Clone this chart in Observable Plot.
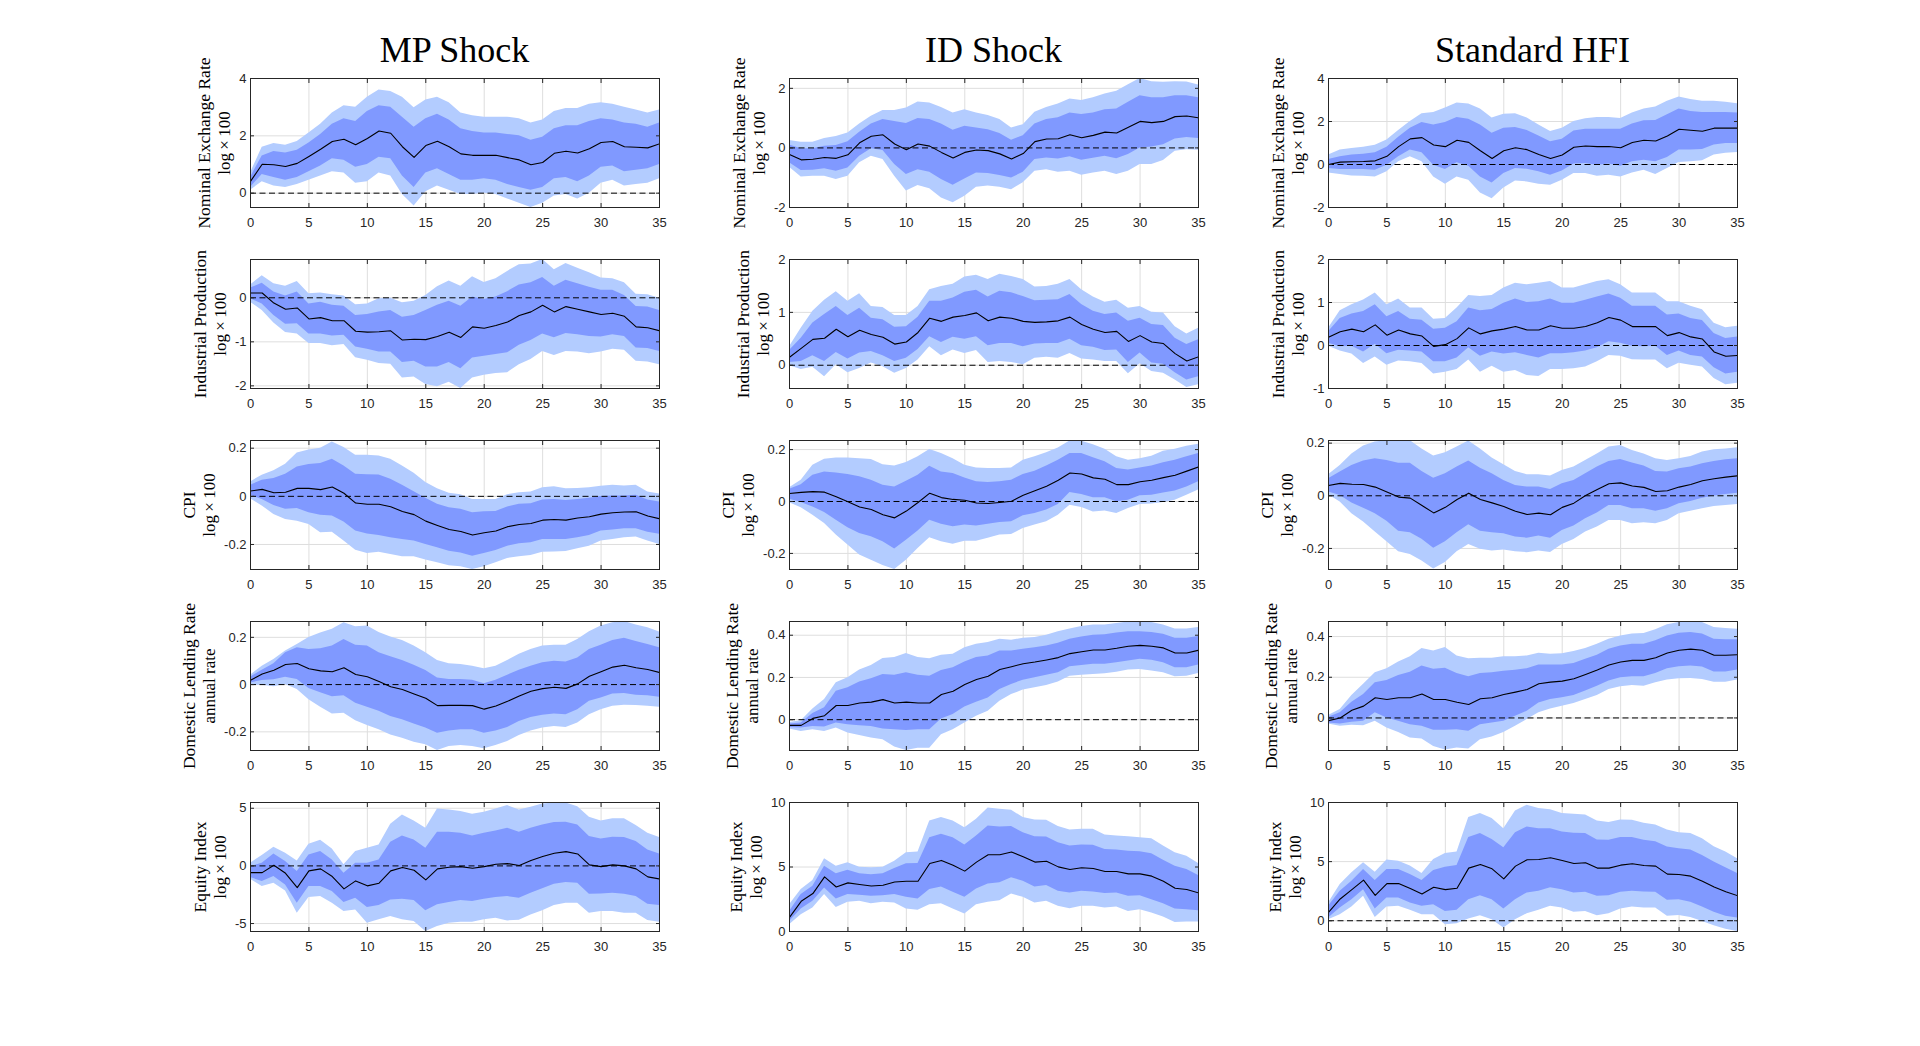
<!DOCTYPE html>
<html>
<head>
<meta charset="utf-8">
<script src="https://cdn.jsdelivr.net/npm/d3@7"></script>
<script src="https://cdn.jsdelivr.net/npm/@observablehq/plot@0.6"></script>
<style>
  html, body { margin: 0; padding: 0; background: #fff; overflow: hidden; }
  #page { position: relative; width: 1920px; height: 1046px; background: #fff; }
  #page svg { position: absolute; }
</style>
</head>
<body>
<div id="page"></div>
<script>
// ---------------- DATA ----------------
const horizon = [0,1,2,3,4,5,6,7,8,9,10,11,12,13,14,15,16,17,18,19,20,21,22,23,24,25,26,27,28,29,30,31,32,33,34,35];
const xTicks = [0,5,10,15,20,25,30,35];
const columnTitles = ["MP Shock", "ID Shock", "Standard HFI"];
const rowLabels = [
  ["Nominal Exchange Rate", "log\u2009×\u2009100"],
  ["Industrial Production", "log\u2009×\u2009100"],
  ["CPI", "log\u2009×\u2009100"],
  ["Domestic Lending Rate", "annual rate"],
  ["Equity Index", "log\u2009×\u2009100"]
];

// y-axis limits and ticks per panel (rows: ER, IP, CPI, LR, EQ)
const mp_ylim  = [[-0.5, 4], [-2.06, 0.87], [-0.304, 0.232], [-0.279, 0.267], [-5.69, 5.5]];
const id_ylim  = [[-2, 2.33], [-0.44, 2], [-0.262, 0.235], [-0.146, 0.465], [0, 10]];
const hfi_ylim = [[-2, 4], [-1, 2], [-0.28, 0.21], [-0.16, 0.474], [-0.91, 10]];
const mp_yticks  = [[0, 2, 4], [-2, -1, 0], [-0.2, 0, 0.2], [-0.2, 0, 0.2], [-5, 0, 5]];
const id_yticks  = [[-2, 0, 2], [0, 1, 2], [-0.2, 0, 0.2], [0, 0.2, 0.4], [0, 5, 10]];
const hfi_yticks = [[-2, 0, 2, 4], [-1, 0, 1, 2], [-0.2, 0, 0.2], [0, 0.2, 0.4], [0, 5, 10]];

// ---- MP shock ----
const mp_er_med  = [0.41,1.01,0.99,0.93,1.04,1.28,1.53,1.80,1.88,1.69,1.91,2.17,2.09,1.62,1.25,1.66,1.81,1.62,1.37,1.32,1.32,1.32,1.24,1.16,0.99,1.07,1.39,1.46,1.40,1.55,1.77,1.80,1.62,1.60,1.58,1.72];
const mp_er_hi90 = [0.7,1.6,1.73,1.67,1.8,2.1,2.4,2.8,3.05,3.0,3.35,3.6,3.55,3.35,2.98,3.25,3.35,3.15,2.8,2.7,2.65,2.65,2.65,2.6,2.45,2.55,2.85,2.95,2.95,3.1,3.15,3.1,3.0,2.9,2.8,2.9];
const mp_er_hi68 = [0.55,1.3,1.45,1.4,1.5,1.75,2.05,2.4,2.6,2.5,2.85,3.05,3.0,2.65,2.3,2.6,2.75,2.55,2.25,2.15,2.1,2.1,2.05,2.0,1.85,1.95,2.25,2.35,2.35,2.5,2.6,2.55,2.45,2.4,2.3,2.45];
const mp_er_lo68 = [0.2,0.65,0.55,0.45,0.55,0.75,0.95,1.2,1.15,0.9,1.0,1.25,1.2,0.6,0.2,0.7,0.85,0.65,0.45,0.45,0.5,0.45,0.3,0.2,0.1,0.2,0.5,0.55,0.4,0.6,0.9,0.95,0.75,0.8,0.85,1.0];
const mp_er_lo90 = [0.1,0.4,0.25,0.2,0.3,0.45,0.6,0.75,0.7,0.35,0.4,0.7,0.6,-0.05,-0.45,0.05,0.25,0.1,-0.05,-0.05,0.0,-0.05,-0.2,-0.35,-0.5,-0.35,-0.1,-0.05,-0.2,0.0,0.35,0.45,0.25,0.3,0.35,0.5];

const mp_ip_med  = [0.11,0.11,-0.12,-0.26,-0.23,-0.48,-0.45,-0.52,-0.52,-0.76,-0.78,-0.77,-0.75,-0.96,-0.94,-0.95,-0.88,-0.78,-0.90,-0.66,-0.69,-0.63,-0.55,-0.40,-0.32,-0.17,-0.32,-0.20,-0.26,-0.32,-0.38,-0.35,-0.42,-0.66,-0.68,-0.75];
const mp_ip_hi90 = [0.29,0.5,0.32,0.26,0.37,0.09,0.11,0.07,0.04,-0.16,-0.14,-0.02,-0.01,-0.11,-0.08,0.05,0.25,0.38,0.26,0.48,0.35,0.43,0.6,0.75,0.77,0.87,0.64,0.78,0.67,0.57,0.45,0.43,0.34,0.08,0.07,-0.01];
const mp_ip_hi68 = [0.22,0.33,0.13,0.04,0.13,-0.14,-0.10,-0.17,-0.19,-0.40,-0.38,-0.32,-0.29,-0.44,-0.40,-0.29,-0.17,-0.08,-0.19,0.02,-0.04,0.02,0.14,0.29,0.34,0.46,0.26,0.40,0.32,0.24,0.17,0.17,0.05,-0.20,-0.21,-0.29];
const mp_ip_lo68 = [-0.02,-0.14,-0.40,-0.60,-0.59,-0.82,-0.82,-0.87,-0.85,-1.12,-1.17,-1.23,-1.23,-1.47,-1.44,-1.57,-1.57,-1.47,-1.61,-1.37,-1.33,-1.29,-1.25,-1.08,-0.97,-0.82,-0.91,-0.81,-0.84,-0.88,-0.89,-0.84,-0.88,-1.14,-1.15,-1.22];
const mp_ip_lo90 = [-0.10,-0.29,-0.57,-0.79,-0.82,-1.04,-1.04,-1.09,-1.06,-1.36,-1.42,-1.49,-1.51,-1.82,-1.80,-1.97,-2.02,-1.92,-2.06,-1.82,-1.76,-1.72,-1.70,-1.52,-1.40,-1.22,-1.31,-1.22,-1.23,-1.27,-1.23,-1.17,-1.19,-1.44,-1.46,-1.52];

const mp_cpi_med  = [0.022,0.029,0.015,0.017,0.033,0.033,0.028,0.039,0.013,-0.028,-0.033,-0.033,-0.043,-0.063,-0.076,-0.103,-0.121,-0.138,-0.146,-0.161,-0.151,-0.144,-0.126,-0.117,-0.113,-0.099,-0.096,-0.099,-0.090,-0.085,-0.074,-0.068,-0.065,-0.064,-0.082,-0.093];
const mp_cpi_hi90 = [0.06,0.088,0.106,0.133,0.18,0.193,0.2,0.226,0.203,0.171,0.171,0.168,0.154,0.126,0.096,0.057,0.032,0.013,0.007,-0.013,-0.013,-0.013,0.007,0.015,0.018,0.036,0.04,0.032,0.033,0.036,0.042,0.046,0.043,0.046,0.018,0.01];
const mp_cpi_hi68 = [0.046,0.067,0.074,0.092,0.122,0.132,0.136,0.154,0.126,0.092,0.09,0.089,0.071,0.046,0.019,-0.008,-0.033,-0.047,-0.054,-0.068,-0.064,-0.063,-0.044,-0.033,-0.031,-0.015,-0.013,-0.017,-0.013,-0.008,-0.001,0.001,0.001,0.004,-0.015,-0.024];
const mp_cpi_lo68 = [0.004,-0.013,-0.038,-0.054,-0.051,-0.068,-0.079,-0.082,-0.107,-0.144,-0.156,-0.163,-0.172,-0.179,-0.186,-0.2,-0.214,-0.228,-0.235,-0.249,-0.238,-0.225,-0.207,-0.197,-0.193,-0.179,-0.179,-0.179,-0.172,-0.163,-0.144,-0.140,-0.135,-0.135,-0.149,-0.158];
const mp_cpi_lo90 = [-0.01,-0.04,-0.075,-0.096,-0.103,-0.117,-0.151,-0.149,-0.186,-0.224,-0.238,-0.232,-0.242,-0.251,-0.251,-0.265,-0.276,-0.288,-0.293,-0.304,-0.293,-0.276,-0.258,-0.251,-0.246,-0.232,-0.231,-0.229,-0.218,-0.207,-0.186,-0.179,-0.172,-0.169,-0.186,-0.2];

const mp_lr_med  = [0.018,0.045,0.061,0.085,0.089,0.067,0.058,0.054,0.071,0.043,0.033,0.013,-0.009,-0.021,-0.04,-0.058,-0.089,-0.088,-0.088,-0.089,-0.104,-0.091,-0.071,-0.048,-0.028,-0.017,-0.011,-0.016,0.003,0.035,0.054,0.074,0.082,0.071,0.064,0.051];
const mp_lr_hi90 = [0.04,0.078,0.106,0.142,0.17,0.199,0.218,0.234,0.262,0.245,0.248,0.22,0.201,0.187,0.163,0.135,0.102,0.088,0.085,0.078,0.067,0.078,0.102,0.128,0.149,0.163,0.167,0.167,0.191,0.224,0.248,0.262,0.267,0.252,0.241,0.223];
const mp_lr_hi68 = [0.031,0.061,0.088,0.135,0.156,0.149,0.152,0.163,0.191,0.167,0.163,0.135,0.118,0.102,0.082,0.06,0.028,0.021,0.021,0.018,0.004,0.018,0.04,0.061,0.078,0.092,0.099,0.096,0.113,0.149,0.166,0.187,0.196,0.182,0.17,0.156];
const mp_lr_lo68 = [0.007,0.017,0.02,0.031,0.021,-0.017,-0.035,-0.052,-0.047,-0.079,-0.096,-0.113,-0.135,-0.149,-0.167,-0.184,-0.206,-0.196,-0.191,-0.191,-0.206,-0.196,-0.182,-0.156,-0.139,-0.13,-0.125,-0.128,-0.106,-0.071,-0.057,-0.04,-0.038,-0.045,-0.047,-0.054];
const mp_lr_lo90 = [-0.003,-0.003,-0.009,0,-0.021,-0.064,-0.096,-0.125,-0.121,-0.153,-0.173,-0.191,-0.213,-0.227,-0.244,-0.255,-0.279,-0.262,-0.258,-0.262,-0.272,-0.258,-0.241,-0.215,-0.196,-0.184,-0.177,-0.182,-0.163,-0.128,-0.106,-0.092,-0.088,-0.089,-0.092,-0.096];

const mp_eq_med  = [-0.58,-0.58,0.06,-0.64,-1.88,-0.43,-0.26,-0.92,-1.99,-1.30,-1.73,-1.50,-0.43,-0.14,-0.38,-1.21,-0.26,-0.12,-0.06,-0.20,-0.06,0.14,0.20,0.03,0.46,0.81,1.10,1.24,1.04,0.09,-0.06,0.09,0,-0.26,-0.95,-1.13];
const mp_eq_hi90 = [0.23,0.9,1.62,1.1,0.43,1.88,2.23,1.47,0.09,1.24,1.53,1.82,3.61,4.42,3.9,3.27,4.94,4.86,4.71,4.48,4.65,4.94,5.23,4.86,5.09,5.38,5.46,5.46,5.14,4.22,3.9,4.08,4.08,3.5,2.83,2.46];
const mp_eq_hi68 = [-0.06,0.23,1.04,0.38,-0.49,0.95,1.24,0.52,-0.64,0.23,0.23,0.52,2.05,2.60,2.25,1.53,2.92,2.92,2.83,2.60,2.83,3.03,3.27,2.92,3.27,3.55,3.76,3.79,3.55,2.54,2.34,2.49,2.46,2.11,1.39,1.04];
const mp_eq_lo68 = [-1.01,-1.36,-0.92,-1.65,-3.24,-1.79,-1.79,-2.23,-3.18,-2.80,-3.61,-3.44,-2.95,-2.89,-3.01,-3.90,-3.38,-3.18,-3.01,-3.09,-2.89,-2.75,-2.66,-2.80,-2.37,-1.99,-1.59,-1.45,-1.50,-2.46,-2.43,-2.37,-2.46,-2.66,-3.32,-3.44];
const mp_eq_lo90 = [-1.16,-1.79,-1.50,-2.17,-4.10,-2.75,-2.66,-3.24,-3.96,-3.82,-4.97,-4.68,-4.39,-4.68,-4.83,-5.69,-5.26,-4.97,-4.88,-4.88,-4.68,-4.54,-4.77,-4.71,-4.25,-3.90,-3.44,-3.24,-3.24,-4.10,-3.96,-3.96,-4.10,-4.10,-4.74,-4.88];

// ---- ID shock ----
const id_er_med  = [-0.22,-0.40,-0.38,-0.32,-0.35,-0.23,0.17,0.39,0.44,0.13,-0.06,0.13,0.06,-0.15,-0.34,-0.15,-0.07,-0.09,-0.20,-0.37,-0.19,0.21,0.30,0.31,0.44,0.34,0.42,0.53,0.50,0.69,0.89,0.85,0.89,1.05,1.07,1.01];
const id_er_hi90 = [0.25,0.19,0.19,0.32,0.38,0.50,0.80,1.06,1.26,1.26,1.34,1.54,1.51,1.36,1.17,1.28,1.17,1.09,0.95,0.67,0.78,1.20,1.36,1.47,1.64,1.59,1.68,1.81,1.90,2.12,2.33,2.22,2.20,2.22,2.21,2.11];
const id_er_hi68 = [0.10,-0.03,-0.03,0.06,0.08,0.21,0.53,0.80,0.95,0.89,0.82,0.99,0.95,0.80,0.59,0.73,0.67,0.61,0.48,0.26,0.41,0.80,0.95,1.01,1.17,1.12,1.17,1.28,1.31,1.53,1.75,1.68,1.68,1.75,1.75,1.68];
const id_er_lo68 = [-0.50,-0.76,-0.75,-0.70,-0.78,-0.67,-0.28,-0.03,-0.09,-0.56,-0.89,-0.73,-0.82,-1.06,-1.25,-1.04,-0.84,-0.86,-0.93,-1.01,-0.82,-0.39,-0.34,-0.37,-0.30,-0.41,-0.35,-0.28,-0.36,-0.22,0,0.03,0.11,0.30,0.35,0.32];
const id_er_lo90 = [-0.65,-0.98,-0.95,-0.95,-1.06,-0.95,-0.50,-0.28,-0.39,-0.95,-1.45,-1.26,-1.37,-1.68,-1.84,-1.62,-1.32,-1.28,-1.32,-1.40,-1.17,-0.78,-0.73,-0.82,-0.78,-0.92,-0.84,-0.78,-0.89,-0.78,-0.56,-0.56,-0.42,-0.11,-0.06,-0.08];

const id_ip_med  = [0.15,0.32,0.49,0.51,0.68,0.54,0.66,0.58,0.53,0.40,0.44,0.62,0.89,0.83,0.91,0.94,0.99,0.84,0.91,0.89,0.83,0.81,0.82,0.84,0.91,0.77,0.68,0.62,0.64,0.45,0.56,0.44,0.41,0.22,0.08,0.16];
const id_ip_hi90 = [0.35,0.70,1.02,1.23,1.39,1.21,1.35,1.11,1.09,0.94,0.94,1.11,1.43,1.49,1.53,1.67,1.70,1.62,1.72,1.68,1.62,1.48,1.49,1.53,1.62,1.43,1.29,1.19,1.23,1.08,1.11,1.00,0.99,0.73,0.59,0.70];
const id_ip_hi68 = [0.28,0.51,0.80,0.96,1.11,0.94,1.08,0.89,0.86,0.72,0.73,0.91,1.21,1.21,1.27,1.38,1.42,1.29,1.40,1.37,1.30,1.22,1.23,1.24,1.34,1.15,1.02,0.96,0.99,0.83,0.89,0.77,0.75,0.51,0.39,0.48];
const id_ip_lo68 = [0.05,0.07,0.18,0.07,0.24,0.12,0.23,0.26,0.18,0.07,0.13,0.30,0.54,0.43,0.53,0.49,0.54,0.37,0.41,0.41,0.35,0.40,0.41,0.41,0.49,0.37,0.34,0.28,0.29,0.05,0.23,0.04,0.02,-0.14,-0.28,-0.22];
const id_ip_lo90 = [-0.01,-0.08,-0.04,-0.22,0.01,-0.14,-0.06,0.04,-0.03,-0.15,-0.06,0.10,0.35,0.18,0.29,0.22,0.28,0.05,0.07,0.05,0.01,0.13,0.15,0.13,0.22,0.12,0.10,0.07,0.07,-0.16,0.03,-0.12,-0.15,-0.28,-0.42,-0.37];

const id_cpi_med  = [0.031,0.035,0.038,0.036,0.018,-0.001,-0.021,-0.031,-0.051,-0.063,-0.037,-0.004,0.032,0.015,0.008,0.005,-0.006,-0.008,-0.004,0.001,0.024,0.041,0.059,0.082,0.110,0.106,0.091,0.086,0.065,0.065,0.076,0.082,0.092,0.101,0.117,0.133];
const id_cpi_hi90 = [0.053,0.082,0.14,0.163,0.168,0.168,0.165,0.162,0.142,0.137,0.15,0.172,0.2,0.185,0.165,0.14,0.129,0.127,0.127,0.129,0.159,0.172,0.188,0.206,0.233,0.232,0.219,0.201,0.172,0.159,0.165,0.174,0.194,0.201,0.213,0.221];
const id_cpi_hi68 = [0.047,0.065,0.101,0.114,0.110,0.104,0.095,0.082,0.063,0.056,0.078,0.101,0.136,0.114,0.108,0.091,0.076,0.073,0.076,0.082,0.104,0.117,0.137,0.159,0.185,0.185,0.169,0.153,0.127,0.121,0.129,0.137,0.149,0.159,0.172,0.185];
const id_cpi_lo68 = [0.009,-0.004,-0.021,-0.042,-0.072,-0.101,-0.123,-0.136,-0.155,-0.183,-0.149,-0.114,-0.072,-0.088,-0.097,-0.091,-0.094,-0.088,-0.081,-0.078,-0.055,-0.046,-0.033,-0.012,0.035,0.027,0.014,0.014,-0.001,0.005,0.022,0.024,0.033,0.040,0.056,0.076];
const id_cpi_lo90 = [-0.005,-0.024,-0.053,-0.085,-0.129,-0.168,-0.206,-0.226,-0.247,-0.262,-0.226,-0.181,-0.14,-0.155,-0.165,-0.153,-0.153,-0.142,-0.129,-0.127,-0.104,-0.091,-0.078,-0.053,-0.014,-0.023,-0.04,-0.037,-0.046,-0.027,-0.012,-0.010,-0.004,0.005,0.024,0.044];

const id_lr_med  = [-0.027,-0.027,0.006,0.019,0.067,0.067,0.079,0.083,0.095,0.079,0.083,0.079,0.079,0.119,0.135,0.167,0.19,0.206,0.238,0.251,0.265,0.273,0.283,0.294,0.313,0.322,0.330,0.330,0.338,0.348,0.352,0.348,0.340,0.316,0.316,0.329];
const id_lr_hi90 = [-0.013,-0.005,0.051,0.095,0.175,0.198,0.235,0.257,0.29,0.294,0.313,0.294,0.289,0.305,0.31,0.341,0.357,0.365,0.381,0.376,0.386,0.389,0.4,0.416,0.429,0.441,0.448,0.449,0.456,0.463,0.463,0.46,0.449,0.429,0.429,0.437];
const id_lr_hi68 = [-0.021,-0.016,0.029,0.056,0.135,0.151,0.178,0.194,0.214,0.21,0.222,0.21,0.206,0.233,0.246,0.273,0.294,0.302,0.325,0.325,0.333,0.341,0.349,0.362,0.381,0.392,0.4,0.402,0.41,0.417,0.417,0.413,0.405,0.386,0.386,0.394];
const id_lr_lo68 = [-0.037,-0.04,-0.032,-0.035,-0.016,-0.024,-0.029,-0.032,-0.044,-0.048,-0.051,-0.048,-0.048,0.003,0.024,0.06,0.083,0.103,0.143,0.167,0.187,0.198,0.21,0.222,0.251,0.257,0.262,0.262,0.27,0.278,0.286,0.281,0.27,0.246,0.246,0.259];
const id_lr_lo90 = [-0.044,-0.056,-0.048,-0.056,-0.04,-0.063,-0.075,-0.087,-0.095,-0.13,-0.146,-0.135,-0.135,-0.071,-0.048,-0.016,0.016,0.04,0.087,0.119,0.14,0.151,0.162,0.178,0.206,0.21,0.214,0.217,0.225,0.235,0.238,0.23,0.222,0.203,0.206,0.219];

const id_eq_med  = [1.09,2.34,2.94,4.23,3.45,3.77,3.64,3.53,3.58,3.84,3.90,3.90,5.27,5.51,5.14,4.68,5.38,5.95,5.95,6.16,5.79,5.38,5.45,5.01,4.81,4.94,4.88,4.65,4.65,4.47,4.47,4.29,3.90,3.35,3.25,2.99];
const id_eq_hi90 = [2.08,3.25,3.95,5.64,5.06,5.32,4.99,4.94,4.99,5.45,6.10,6.16,8.57,8.83,8.57,8.05,8.70,9.58,9.48,9.40,8.83,8.65,8.62,8.13,7.87,7.92,7.92,7.48,7.40,7.35,7.27,7.19,6.62,6.10,5.84,5.27];
const id_eq_hi68 = [1.56,2.86,3.51,5.06,4.47,4.75,4.47,4.39,4.47,4.88,5.25,5.27,7.27,7.53,7.27,6.70,7.40,8.18,8.10,8.13,7.66,7.35,7.32,6.88,6.62,6.70,6.68,6.36,6.31,6.23,6.18,6.03,5.53,5.06,4.81,4.34];
const id_eq_lo68 = [0.78,1.74,2.34,3.38,2.52,2.86,2.81,2.73,2.78,2.86,2.65,2.52,3.25,3.45,3.04,2.65,3.30,3.69,3.77,4.16,3.90,3.45,3.56,3.12,2.99,3.12,3.06,2.94,2.99,2.73,2.78,2.47,2.16,1.74,1.69,1.61];
const id_eq_lo90 = [0.52,1.30,1.82,2.86,1.87,2.26,2.34,2.16,2.26,2.21,1.74,1.64,2.08,2.16,1.74,1.35,2.08,2.26,2.39,2.91,2.65,2.21,2.34,1.95,1.77,1.95,1.95,1.82,1.90,1.56,1.69,1.43,1.12,0.70,0.73,0.73];

// ---- Standard HFI ----
const hfi_er_med  = [0,0.11,0.13,0.14,0.17,0.38,0.83,1.19,1.25,0.91,0.83,1.13,1.03,0.64,0.28,0.64,0.78,0.69,0.47,0.28,0.44,0.80,0.86,0.83,0.84,0.78,1.02,1.13,1.09,1.33,1.64,1.59,1.55,1.69,1.69,1.69];
const hfi_er_hi90 = [0.44,0.67,0.75,0.80,0.89,1.14,1.58,2.0,2.36,2.42,2.63,2.86,2.81,2.58,2.16,2.34,2.36,2.16,1.84,1.53,1.69,2.0,2.13,2.19,2.19,2.14,2.39,2.58,2.67,2.94,3.14,3.02,2.94,2.94,2.89,2.83];
const hfi_er_hi68 = [0.23,0.36,0.44,0.48,0.55,0.80,1.27,1.69,1.95,1.84,1.95,2.19,2.11,1.84,1.45,1.69,1.72,1.58,1.33,1.06,1.17,1.56,1.64,1.64,1.64,1.64,1.88,2.03,2.05,2.31,2.58,2.47,2.42,2.42,2.42,2.39];
const hfi_er_lo68 = [-0.19,-0.23,-0.23,-0.23,-0.27,-0.03,0.36,0.67,0.55,-0.03,-0.23,0.08,-0.08,-0.58,-0.86,-0.42,-0.19,-0.22,-0.34,-0.50,-0.30,0.02,0.05,-0.03,0.02,-0.08,0.13,0.20,0.13,0.33,0.67,0.67,0.70,0.91,0.98,0.98];
const hfi_er_lo90 = [-0.39,-0.47,-0.53,-0.55,-0.58,-0.34,0.13,0.36,0.13,-0.58,-0.92,-0.58,-0.73,-1.33,-1.59,-1.09,-0.77,-0.81,-0.92,-0.97,-0.73,-0.42,-0.42,-0.55,-0.50,-0.58,-0.39,-0.27,-0.47,-0.19,0.09,0.13,0.17,0.44,0.52,0.56];

const hfi_ip_med  = [0.19,0.32,0.38,0.32,0.48,0.24,0.36,0.27,0.22,-0.02,0.02,0.16,0.41,0.27,0.34,0.38,0.44,0.36,0.36,0.46,0.40,0.40,0.44,0.53,0.65,0.59,0.44,0.44,0.44,0.23,0.30,0.20,0.15,-0.15,-0.25,-0.23];
const hfi_ip_hi90 = [0.40,0.81,0.95,1.06,1.22,0.95,1.08,0.87,0.87,0.61,0.63,0.87,1.16,1.14,1.16,1.34,1.45,1.41,1.45,1.49,1.34,1.34,1.41,1.49,1.53,1.41,1.22,1.22,1.22,1.02,1.02,0.91,0.83,0.52,0.41,0.45];
const hfi_ip_hi68 = [0.32,0.63,0.73,0.79,0.95,0.67,0.79,0.61,0.59,0.38,0.40,0.55,0.87,0.81,0.84,0.98,1.08,1.0,1.02,1.08,0.98,0.98,1.05,1.13,1.20,1.10,0.91,0.91,0.91,0.71,0.73,0.63,0.58,0.28,0.16,0.20];
const hfi_ip_lo68 = [0.05,-0.03,-0.02,-0.15,0.03,-0.19,-0.11,-0.13,-0.15,-0.38,-0.38,-0.29,-0.05,-0.25,-0.15,-0.20,-0.17,-0.23,-0.29,-0.19,-0.19,-0.17,-0.13,-0.05,0.09,0.05,-0.02,-0.03,-0.02,-0.23,-0.13,-0.23,-0.27,-0.52,-0.66,-0.62];
const hfi_ip_lo90 = [-0.02,-0.13,-0.20,-0.42,-0.27,-0.46,-0.36,-0.38,-0.42,-0.66,-0.62,-0.56,-0.34,-0.62,-0.48,-0.62,-0.58,-0.70,-0.72,-0.56,-0.56,-0.54,-0.50,-0.38,-0.23,-0.25,-0.33,-0.34,-0.34,-0.54,-0.41,-0.46,-0.50,-0.77,-0.91,-0.88];

const hfi_cpi_med  = [0.039,0.047,0.044,0.043,0.033,0.014,-0.005,-0.009,-0.037,-0.065,-0.044,-0.014,0.010,-0.014,-0.027,-0.041,-0.059,-0.071,-0.066,-0.072,-0.044,-0.028,0.001,0.024,0.046,0.049,0.037,0.032,0.016,0.019,0.033,0.043,0.057,0.065,0.071,0.076];
const hfi_cpi_hi90 = [0.08,0.115,0.159,0.189,0.204,0.209,0.21,0.209,0.178,0.151,0.163,0.185,0.208,0.178,0.144,0.118,0.092,0.080,0.080,0.075,0.096,0.109,0.134,0.159,0.185,0.191,0.172,0.159,0.141,0.134,0.141,0.149,0.166,0.175,0.178,0.182];
const hfi_cpi_hi68 = [0.065,0.09,0.115,0.132,0.141,0.134,0.124,0.124,0.092,0.067,0.084,0.109,0.132,0.105,0.084,0.058,0.039,0.033,0.033,0.024,0.046,0.058,0.084,0.109,0.130,0.138,0.125,0.113,0.092,0.090,0.103,0.109,0.122,0.130,0.137,0.141];
const hfi_cpi_lo68 = [0.014,0.001,-0.027,-0.047,-0.068,-0.097,-0.135,-0.140,-0.165,-0.199,-0.175,-0.140,-0.110,-0.135,-0.140,-0.144,-0.157,-0.161,-0.153,-0.161,-0.132,-0.115,-0.087,-0.065,-0.037,-0.037,-0.049,-0.049,-0.059,-0.049,-0.030,-0.022,-0.009,-0.001,0.005,0.010];
const hfi_cpi_lo90 = [0.004,-0.024,-0.068,-0.1,-0.138,-0.175,-0.213,-0.223,-0.248,-0.278,-0.253,-0.213,-0.185,-0.203,-0.210,-0.206,-0.213,-0.216,-0.210,-0.215,-0.185,-0.166,-0.138,-0.119,-0.094,-0.094,-0.106,-0.102,-0.106,-0.094,-0.068,-0.059,-0.049,-0.041,-0.037,-0.033];

const hfi_lr_med  = [-0.013,0,0.038,0.058,0.099,0.091,0.099,0.099,0.118,0.091,0.091,0.077,0.066,0.094,0.099,0.115,0.127,0.14,0.168,0.176,0.181,0.193,0.214,0.236,0.26,0.275,0.283,0.283,0.296,0.319,0.333,0.338,0.333,0.308,0.308,0.311];
const hfi_lr_hi90 = [0.012,0.041,0.11,0.165,0.222,0.242,0.275,0.301,0.341,0.329,0.346,0.305,0.291,0.293,0.293,0.301,0.301,0.305,0.318,0.313,0.316,0.326,0.341,0.362,0.387,0.403,0.412,0.415,0.433,0.458,0.469,0.472,0.469,0.444,0.44,0.436];
const hfi_lr_hi68 = [0.003,0.025,0.077,0.115,0.173,0.184,0.209,0.225,0.255,0.239,0.244,0.219,0.203,0.219,0.222,0.23,0.234,0.242,0.26,0.26,0.26,0.268,0.288,0.308,0.338,0.354,0.362,0.362,0.379,0.403,0.416,0.42,0.412,0.387,0.384,0.384];
const hfi_lr_lo68 = [-0.025,-0.03,-0.021,-0.016,0.025,0,-0.016,-0.033,-0.041,-0.061,-0.061,-0.058,-0.066,-0.033,-0.025,-0.016,0.008,0.033,0.074,0.091,0.099,0.11,0.132,0.156,0.181,0.198,0.203,0.203,0.219,0.242,0.252,0.255,0.25,0.226,0.226,0.236];
const hfi_lr_lo90 = [-0.03,-0.041,-0.036,-0.038,-0.016,-0.049,-0.071,-0.099,-0.104,-0.14,-0.157,-0.148,-0.153,-0.107,-0.094,-0.071,-0.041,-0.008,0.025,0.044,0.058,0.071,0.091,0.11,0.14,0.153,0.16,0.156,0.173,0.186,0.193,0.194,0.189,0.176,0.176,0.186];

const hfi_eq_med  = [0.71,1.84,2.63,3.43,2.15,3.14,3.14,2.72,2.27,2.83,2.63,2.75,4.45,4.76,4.39,3.54,4.62,5.16,5.18,5.33,5.10,4.84,4.90,4.45,4.45,4.70,4.82,4.67,4.62,3.94,3.91,3.77,3.34,2.86,2.46,2.12];
const hfi_eq_hi90 = [1.50,3.06,4.05,4.90,4.11,5.13,5.04,4.62,4.0,5.18,5.69,5.81,8.73,9.07,8.64,7.79,9.29,9.77,9.49,9.38,9.07,9.01,8.95,8.44,8.30,8.53,8.50,8.24,8.10,7.68,7.45,7.37,6.94,6.26,5.81,5.24];
const hfi_eq_hi68 = [1.22,2.49,3.34,4.33,3.40,4.33,4.33,3.91,3.40,4.25,4.53,4.67,7.03,7.37,6.88,6.18,7.45,7.93,7.79,7.79,7.51,7.39,7.37,6.83,6.80,7.03,7.03,6.80,6.69,6.23,6.09,5.98,5.52,4.96,4.48,4.0];
const hfi_eq_lo68 = [0.23,1.08,1.78,2.63,0.99,1.93,1.93,1.50,1.22,1.36,0.79,0.88,1.78,2.12,1.78,0.99,1.78,2.35,2.49,2.78,2.63,2.35,2.41,2.07,2.12,2.41,2.49,2.44,2.41,1.73,1.78,1.56,1.16,0.71,0.37,0.23];
const hfi_eq_lo90 = [0.08,0.51,1.16,2.07,0.28,1.16,1.22,0.88,0.51,0.51,-0.34,-0.25,0.14,0.42,0.08,-0.62,0.08,0.59,0.88,1.22,1.08,0.71,0.79,0.42,0.59,0.99,1.16,1.08,1.08,0.37,0.45,0.28,-0.06,-0.42,-0.71,-0.91];

// ---------------- TABLES BUILT FROM THE ARRAYS ----------------
const columns = [
  { ylim: mp_ylim, yticks: mp_yticks, rows: [
    [mp_er_med, mp_er_lo90, mp_er_lo68, mp_er_hi68, mp_er_hi90],
    [mp_ip_med, mp_ip_lo90, mp_ip_lo68, mp_ip_hi68, mp_ip_hi90],
    [mp_cpi_med, mp_cpi_lo90, mp_cpi_lo68, mp_cpi_hi68, mp_cpi_hi90],
    [mp_lr_med, mp_lr_lo90, mp_lr_lo68, mp_lr_hi68, mp_lr_hi90],
    [mp_eq_med, mp_eq_lo90, mp_eq_lo68, mp_eq_hi68, mp_eq_hi90]]},
  { ylim: id_ylim, yticks: id_yticks, rows: [
    [id_er_med, id_er_lo90, id_er_lo68, id_er_hi68, id_er_hi90],
    [id_ip_med, id_ip_lo90, id_ip_lo68, id_ip_hi68, id_ip_hi90],
    [id_cpi_med, id_cpi_lo90, id_cpi_lo68, id_cpi_hi68, id_cpi_hi90],
    [id_lr_med, id_lr_lo90, id_lr_lo68, id_lr_hi68, id_lr_hi90],
    [id_eq_med, id_eq_lo90, id_eq_lo68, id_eq_hi68, id_eq_hi90]]},
  { ylim: hfi_ylim, yticks: hfi_yticks, rows: [
    [hfi_er_med, hfi_er_lo90, hfi_er_lo68, hfi_er_hi68, hfi_er_hi90],
    [hfi_ip_med, hfi_ip_lo90, hfi_ip_lo68, hfi_ip_hi68, hfi_ip_hi90],
    [hfi_cpi_med, hfi_cpi_lo90, hfi_cpi_lo68, hfi_cpi_hi68, hfi_cpi_hi90],
    [hfi_lr_med, hfi_lr_lo90, hfi_lr_lo68, hfi_lr_hi68, hfi_lr_hi90],
    [hfi_eq_med, hfi_eq_lo90, hfi_eq_lo68, hfi_eq_hi68, hfi_eq_hi90]]}
];

// ---------------- LAYOUT & STYLE ----------------
const colLeft = [250, 789, 1328];
const rowTop = [78, 259, 440, 621, 802];
const panelW = 409, panelH = 129;
const mL = 100, mR = 20, mT = 10, mB = 34;
const lightBlue = "rgb(179,204,255)";
const darkBlue = "rgb(128,153,255)";
const gridColor = "#dedede";
const axisColor = "#262626";
const tickFont = "Liberation Sans, Arial, sans-serif";
const labelFont = "Liberation Serif, Times New Roman, serif";

const ctx = document.createElement("canvas").getContext("2d");
ctx.font = "13px 'Liberation Sans'";
const measure = s => ctx.measureText(s).width;
const fmt = d => String(d);

const page = document.getElementById("page");

// column titles
const ns = "http://www.w3.org/2000/svg";
const titleSvg = document.createElementNS(ns, "svg");
titleSvg.setAttribute("width", 1920);
titleSvg.setAttribute("height", 80);
titleSvg.style.left = "0px";
titleSvg.style.top = "0px";
columnTitles.forEach((t, c) => {
  const tx = document.createElementNS(ns, "text");
  tx.setAttribute("x", colLeft[c] + panelW / 2);
  tx.setAttribute("y", 61.5);
  tx.setAttribute("text-anchor", "middle");
  tx.setAttribute("font-family", labelFont);
  tx.setAttribute("font-size", "36px");
  tx.setAttribute("fill", "#000");
  tx.textContent = t;
  titleSvg.appendChild(tx);
});
page.appendChild(titleSvg);

columns.forEach((col, c) => {
  col.rows.forEach((s, r) => {
    const [med, lo90, lo68, hi68, hi90] = s;
    const data = horizon.map((h, i) => ({h, med: med[i], lo90: lo90[i], lo68: lo68[i], hi68: hi68[i], hi90: hi90[i]}));
    const yt = col.yticks[r];
    const tickW = Math.max(...yt.map(t => measure(fmt(t))));
    const off1 = 39 + tickW;
    const off2 = off1 - 20.5;
    const [l1, l2] = rowLabels[r];
    const svg = Plot.plot({
      width: panelW + mL + mR,
      height: panelH + mT + mB,
      marginLeft: mL, marginRight: mR, marginTop: mT, marginBottom: mB,
      x: {domain: [0, 35]},
      y: {domain: col.ylim[r]},
      style: {fontFamily: tickFont, fontSize: "13px", color: axisColor, background: "transparent", overflow: "visible"},
      marks: [
        Plot.gridX(xTicks, {stroke: gridColor, strokeOpacity: 1}),
        Plot.gridY(yt, {stroke: gridColor, strokeOpacity: 1}),
        Plot.areaY(data, {x: "h", y1: "lo90", y2: "hi90", fill: lightBlue, clip: true}),
        Plot.areaY(data, {x: "h", y1: "lo68", y2: "hi68", fill: darkBlue, clip: true}),
        Plot.ruleY([0], {stroke: "#000", strokeWidth: 1, strokeDasharray: "6,3.5"}),
        Plot.lineY(data, {x: "h", y: "med", stroke: "#000", strokeWidth: 1.1, clip: true}),
        // inward tick marks on all four sides
        Plot.axisX(xTicks, {anchor: "bottom", tickSize: 4, dy: -4, tickFormat: () => "", label: null}),
        Plot.axisX(xTicks, {anchor: "top", tickSize: 4, dy: 4, tickFormat: () => "", label: null}),
        Plot.axisY(yt, {anchor: "left", tickSize: 4, dx: 4, tickFormat: () => "", label: null}),
        Plot.axisY(yt, {anchor: "right", tickSize: 4, dx: -4, tickFormat: () => "", label: null}),
        // tick labels
        Plot.axisX(xTicks, {anchor: "bottom", tickSize: 0, tickPadding: 10, tickFormat: fmt, label: null, fontSize: 13}),
        Plot.axisY(yt, {anchor: "left", tickSize: 0, tickPadding: 4, tickFormat: fmt, label: null, fontSize: 13}),
        Plot.frame({stroke: axisColor, strokeWidth: 1}),
        // two-line y label, centred on the panel
        Plot.text([l1], {frameAnchor: "left", textAnchor: "middle", lineAnchor: "middle", rotate: -90, dx: -off1, fontSize: 17.5, fontFamily: labelFont, fill: "#000"}),
        Plot.text([l2], {frameAnchor: "left", textAnchor: "middle", lineAnchor: "middle", rotate: -90, dx: -off2, fontSize: 17, fontFamily: labelFont, fill: "#000"})
      ]
    });
    svg.style.left = (colLeft[c] - mL) + "px";
    svg.style.top = (rowTop[r] - mT) + "px";
    page.appendChild(svg);
  });
});
</script>
</body>
</html>
